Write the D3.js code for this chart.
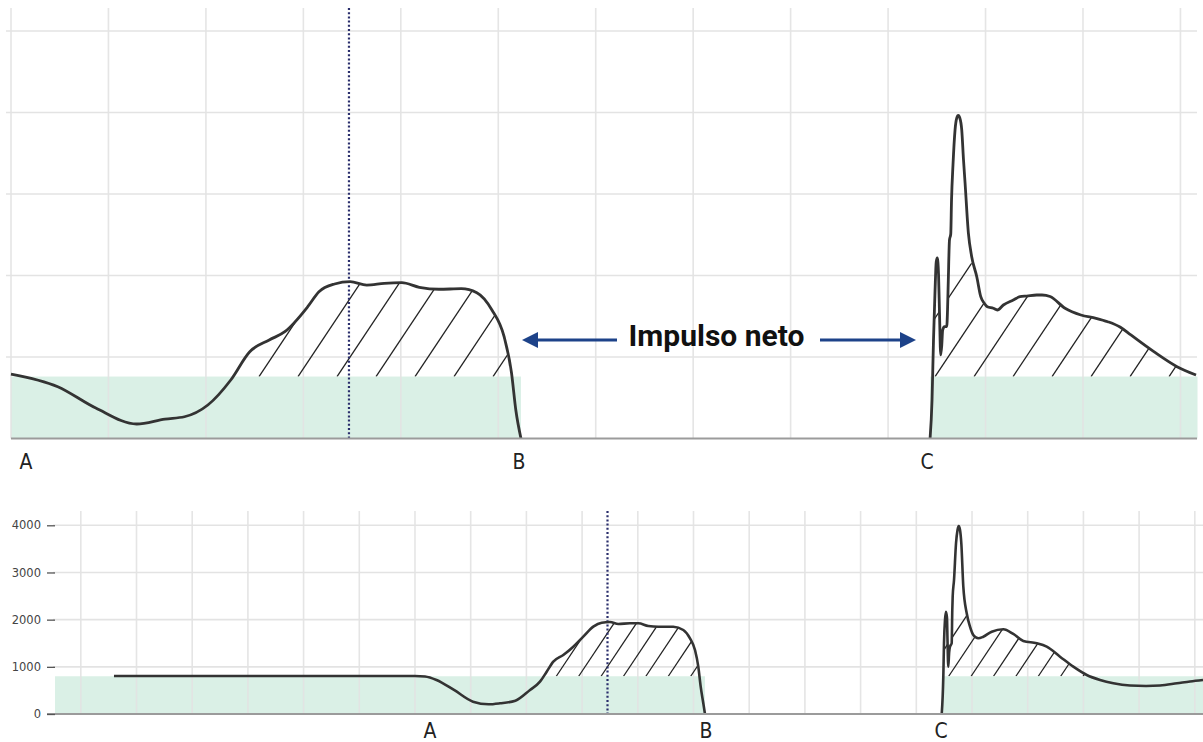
<!DOCTYPE html>
<html><head><meta charset="utf-8">
<script src="https://cdn.jsdelivr.net/npm/d3@7"></script>
<style>
html,body{margin:0;padding:0;background:#fff;}
svg{display:block;}
</style></head><body>
<svg id="chart" width="1203" height="742"></svg>
<script>
// ---------------- DATA ----------------
const eventLabels = ["A", "B", "C"];
const bottomTickValues = [0, 1000, 2000, 3000, 4000];
const topGridValues = [1000, 2000, 3000, 4000, 5000];
const annotationText = "Impulso neto";

const topWeight = 760;      // N (green band height, top panel)
const bottomWeight = 800;   // N (green band height, bottom panel)
const hatchCap = 2150;      // N, hatching is not drawn above this force

// Top panel (zoomed jump), time in s, force in N
const topTime = [0.000,0.048,0.087,0.129,0.158,0.178,0.202,0.2255,0.245,0.265,0.281,0.3045,0.316,0.332,0.348,0.365,0.383,0.401,0.419,0.439,0.462,0.478,0.4935,0.506,0.5136,0.518,0.5233,
  0.9431,0.9451,0.9466,0.9482,0.9494,0.9505,0.9518,0.9528,0.9540,0.9551,0.9560,0.9579,0.9602,0.9610,0.9618,0.9630,0.9643,0.9651,0.9666,0.9687,0.9705,0.9720,0.9736,0.9756,0.9774,0.9790,0.9824,0.9858,0.9910,0.9951,0.9985,1.0018,1.0080,1.0121,1.0183,1.0285,1.0354,1.0423,1.0525,1.0580,1.0662,1.0816,1.0978,1.1134,1.1254,1.1380,1.1491,1.1727,1.1965,1.2160];
const topForce = [791,636,374,178,239,267,411,718,1065,1209,1310,1617,1801,1896,1924,1883,1904,1912,1855,1831,1838,1789,1577,1249,804,350,0,
  0,472,1209,1822,2166,2215,2006,1515,1025,1147,1331,1372,1372,1577,1945,2436,2509,2926,3356,3785,3933,3963,3933,3785,3417,3135,2521,2231,1985,1740,1663,1617,1598,1577,1638,1699,1740,1748,1761,1761,1742,1598,1515,1475,1433,1368,1270,1065,881,779];

// Bottom panel (whole jump)
const bottomTime = [0.0596,0.600,0.618,0.6386,0.670,0.7041,0.732,0.7526,0.7802,0.8065,0.8244,0.8364,0.8483,0.8662,0.8842,0.9021,0.9201,0.9352,0.950,0.965,0.986,1.001,1.0189,1.0368,1.0638,1.0817,1.0937,1.1027,1.1086,1.1129,1.1176,1.1206,
  1.5456,1.5485,1.5497,1.5515,1.5533,1.5551,1.5560,1.5574,1.5590,1.5605,1.5635,1.5646,1.5653,1.5677,1.5713,1.5740,1.5761,1.5785,1.5808,1.5844,1.5905,1.5964,1.6023,1.6113,1.6203,1.6354,1.6562,1.6741,1.6921,1.7162,1.7341,1.7580,1.7819,1.8060,1.8299,1.8538,1.8837,1.9125,1.9376,1.9681,1.9915,2.0147];
const bottomForce = [806,806,795,721,509,261,206,227,282,509,685,897,1109,1251,1427,1639,1851,1936,1950,1908,1923,1923,1866,1851,1851,1781,1605,1357,1003,579,227,0,
  0,791,1499,1993,2169,2035,1569,1003,1314,1427,1499,2205,2487,2841,3619,3901,3986,3901,3619,2699,2135,1851,1675,1605,1639,1745,1796,1696,1548,1499,1427,1215,1003,827,721,651,604,594,604,651,689,721];

// event times (A, B, C) and label times
const topEvents = [0.0, 0.5233, 0.9431];
const topLabelTimes = [0.0154, 0.5213, 0.9400];
const bottomEvents = [0.627, 1.1206, 1.5456];
const bottomLabelTimes = [0.627, 1.1225, 1.5445];
const topMarkerTime = 0.3468;     // dotted line
const bottomMarkerTime = 0.9456;

// ---------------- DRAW ----------------
const svg = d3.select("#chart");
const GRID = "#e3e3e3", CURVE = "#333333", GREEN = "#c8e9da", NAVY = "#1d4289";

function drawPanel(cfg) {
  const g = svg.append("g");
  const x = d3.scaleLinear().domain(cfg.xDomain).range(cfg.xRange);
  const y = d3.scaleLinear().domain(cfg.yDomain).range(cfg.yRange);
  const pts = cfg.time.map((t, i) => ({t, f: cfg.force[i]}));

  // green bands (body weight)
  const bands = [[cfg.xDomain[0], cfg.events[1]], [cfg.events[2], cfg.xDomain[1]]];
  g.selectAll("rect.band").data(bands).join("rect").attr("class", "band")
    .attr("x", d => x(d[0])).attr("width", d => x(d[1]) - x(d[0]))
    .attr("y", y(cfg.weight)).attr("height", y(0) - y(cfg.weight))
    .attr("fill", GREEN).attr("opacity", 0.68);

  // grid
  g.selectAll("line.vg").data(d3.range(cfg.vgStart, cfg.vgEnd + 1e-9, 0.1)).join("line")
    .attr("x1", d => x(d)).attr("x2", d => x(d))
    .attr("y1", cfg.gridTop).attr("y2", y(0))
    .attr("stroke", GRID).attr("stroke-width", 1.6).attr("opacity", 0.9);
  g.selectAll("line.hg").data(cfg.hGrid).join("line")
    .attr("x1", cfg.hgX1).attr("x2", cfg.hgX2)
    .attr("y1", d => y(d)).attr("y2", d => y(d))
    .attr("stroke", GRID).attr("stroke-width", 1.6);

  // hatch regions: from min (unweighting) to B, and from C to end
  const iB = cfg.time.findIndex(t => t >= cfg.events[1]);
  const iMin = d3.minIndex(cfg.force.slice(0, iB));
  const iC = cfg.time.findIndex(t => t >= cfg.events[2]);
  const regions = [pts.slice(iMin, iB + 1), pts.slice(iC)];
  const area = d3.area().curve(d3.curveMonotoneX)
    .x(d => x(d.t)).y0(y(cfg.weight)).y1(d => y(Math.min(Math.max(d.f, cfg.weight), hatchCap)));
  regions.forEach((reg, ri) => {
    const id = cfg.id + "clip" + ri;
    g.append("clipPath").attr("id", id).append("path").attr("d", area(reg));
    const yW = y(cfg.weight);
    const H = 400, dx = H / cfg.hatchSlope;
    const x0 = x(cfg.hatchPhase[ri]);
    const xa = x(reg[0].t) - dx - cfg.hatchStep, xb = x(reg[reg.length - 1].t);
    const starts = [];
    for (let k = Math.floor((xa - x0) / cfg.hatchStep); x0 + k * cfg.hatchStep <= xb; k++) starts.push(x0 + k * cfg.hatchStep);
    g.append("g").attr("clip-path", `url(#${id})`)
      .selectAll("line").data(starts).join("line")
      .attr("x1", d => d).attr("y1", yW).attr("x2", d => d + dx).attr("y2", yW - H)
      .attr("stroke", "#222").attr("stroke-width", 1.3);
  });

  // dotted marker
  g.append("line").attr("x1", x(cfg.marker)).attr("x2", x(cfg.marker))
    .attr("y1", cfg.gridTop).attr("y2", y(0))
    .attr("stroke", "#2a2e6c").attr("stroke-width", 2.2).attr("stroke-dasharray", "2,2.2");

  // curve (contact phases only; flight phase lies on the baseline)
  const line = d3.line().curve(d3.curveMonotoneX).x(d => x(d.t)).y(d => y(d.f));
  [pts.slice(0, iB + 1), pts.slice(iC)].forEach(seg => {
    g.append("path").attr("d", line(seg)).attr("fill", "none")
      .attr("stroke", CURVE).attr("stroke-width", cfg.curveWidth).attr("stroke-linejoin", "round");
  });

  // baseline
  g.append("line").attr("x1", cfg.baseX1).attr("x2", cfg.hgX2)
    .attr("y1", y(0)).attr("y2", y(0)).attr("stroke", "#9b9b9b").attr("stroke-width", 2);

  // event labels
  g.selectAll("text.ev").data(eventLabels).join("text")
    .attr("x", (d, i) => x(cfg.labelTimes[i])).attr("y", cfg.labelY)
    .attr("text-anchor", "middle")
    .style("font-family", "'Liberation Sans Narrow','DejaVu Sans Condensed','Roboto',sans-serif")
    .style("font-stretch", "condensed")
    .style("font-size", "21px").attr("fill", "#222").text(d => d);

  return {x, y, g};
}

// top panel
const topPanel = drawPanel({
  id: "top", time: topTime, force: topForce, weight: topWeight,
  xDomain: [0, 1.2175], xRange: [11, 1197.5],
  yDomain: [0, 5000], yRange: [438.5, 31],
  vgStart: 0, vgEnd: 1.2, gridTop: 8, hGrid: topGridValues, hgX1: 6, hgX2: 1197, baseX1: 11,
  events: topEvents, labelTimes: topLabelTimes, labelY: 468.5, marker: topMarkerTime,
  hatchSlope: 1.5, hatchStep: 39, hatchPhase: [0.2545, 0.9482], curveWidth: 2.8
});

// bottom panel
const botPanel = drawPanel({
  id: "bot", time: bottomTime, force: bottomForce, weight: bottomWeight,
  xDomain: [-0.0463, 2.0147], xRange: [55, 1203],
  yDomain: [0, 4000], yRange: [714, 525.3],
  vgStart: 0, vgEnd: 2.0, gridTop: 511, hGrid: [1000, 2000, 3000, 4000], hgX1: 53, hgX2: 1203, baseX1: 47,
  events: bottomEvents, labelTimes: bottomLabelTimes, labelY: 737.5, marker: bottomMarkerTime,
  hatchSlope: 1.5, hatchStep: 22.4, hatchPhase: [0.8537, 1.5582], curveWidth: 2.6
});
// bottom y axis
const yAxis = d3.axisLeft(botPanel.y).tickValues(bottomTickValues).tickSize(8).tickPadding(6).tickFormat(d3.format("d"));
const ax = svg.append("g").attr("transform", "translate(55,0)").call(yAxis);
ax.select(".domain").remove();
ax.selectAll(".tick line").attr("stroke", "#555").attr("stroke-width", 1.3);
ax.selectAll(".tick text").attr("fill", "#444")
  .style("font-family", "'DejaVu Sans',sans-serif").style("font-size", "11.5px");

// annotation: Impulso neto with arrows
const ann = svg.append("g");
const ay = 340;
ann.append("text").attr("x", 716.5).attr("y", 346).attr("text-anchor", "middle")
  .style("font-family", "Roboto, 'Noto Sans', sans-serif").style("font-weight", "700")
  .style("font-size", "30px").attr("fill", "#111").text(annotationText);
ann.append("line").attr("x1", 617).attr("x2", 534).attr("y1", ay).attr("y2", ay)
  .attr("stroke", NAVY).attr("stroke-width", 3.2);
ann.append("path").attr("d", d3.line()([[522, ay], [538, ay - 8], [538, ay + 8]]) + "Z").attr("fill", NAVY);
ann.append("line").attr("x1", 820).attr("x2", 903).attr("y1", ay).attr("y2", ay)
  .attr("stroke", NAVY).attr("stroke-width", 3.2);
ann.append("path").attr("d", d3.line()([[916, ay], [900, ay - 8], [900, ay + 8]]) + "Z").attr("fill", NAVY);
</script>
</body></html>
